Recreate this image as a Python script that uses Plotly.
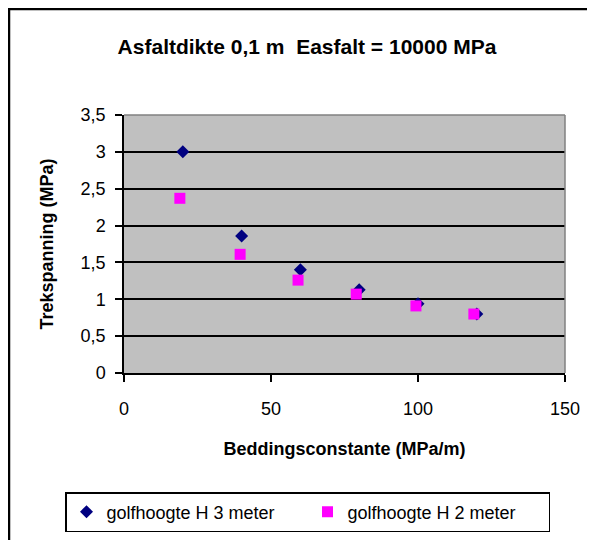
import plotly.graph_objects as go

# data
x_h3 = [20, 40, 60, 80, 100, 120]
y_h3 = [3.0, 1.86, 1.40, 1.13, 0.94, 0.80]
x_h2 = [19, 39.5, 59.2, 79, 99.3, 119]
y_h2 = [2.37, 1.61, 1.26, 1.07, 0.91, 0.80]
x_ticks = [0, 50, 100, 150]
y_ticks = [0, 0.5, 1, 1.5, 2, 2.5, 3, 3.5]

# page body has an 8px margin, so the figure is sized/placed to compensate
W, H = 587, 532
L, R, T, B = 116, 30, 107, 167
pw, ph = W - L - R, H - T - B

fnt = "Liberation Sans, Arial, sans-serif"

fig = go.Figure()
fig.add_trace(go.Scatter(x=x_h3, y=y_h3, mode="markers", name="golfhoogte H 3 meter",
                         marker=dict(symbol="diamond", size=10, color="#000080")))
fig.add_trace(go.Scatter(x=x_h2, y=y_h2, mode="markers", name="golfhoogte H 2 meter",
                         marker=dict(symbol="square", size=11, color="#FF00FF")))

fig.update_xaxes(range=[0, 150], tickvals=x_ticks, showgrid=False, zeroline=False,
                 showline=True, linecolor="black", linewidth=1.5, automargin=False,
                 ticks="outside", ticklen=7, tickcolor="black", tickwidth=1.5,
                 ticklabelstandoff=12,
                 tickfont=dict(family=fnt, size=18, color="black"),
                 title=dict(text="<b>Beddingsconstante (MPa/m)</b>", standoff=24,
                            font=dict(family=fnt, size=18, color="black")))
fig.update_yaxes(range=[0, 3.5], tickvals=y_ticks, showgrid=True, gridcolor="black", gridwidth=1.8,
                 zeroline=False, showline=True, linecolor="black", linewidth=1.5, automargin=False,
                 ticks="outside", ticklen=7, tickcolor="black", tickwidth=1.5,
                 ticklabelstandoff=6,
                 tickfont=dict(family=fnt, size=18, color="black"),
                 title=dict(text="<b>Trekspanning (MPa)</b>", standoff=22,
                            font=dict(family=fnt, size=18, color="black")))

# grey top/right plot border, outer chart frame
fig.add_shape(type="line", xref="paper", yref="paper", x0=0, x1=1, y0=1, y1=1,
              line=dict(color="#808080", width=1.5), layer="above")
fig.add_shape(type="line", xref="paper", yref="paper", x0=1, x1=1, y0=0, y1=1,
              line=dict(color="#808080", width=1.5), layer="above")
fig.add_shape(type="rect", xref="paper", yref="paper",
              x0=(1 - L) / pw, x1=(W + 30 - L) / pw,
              y0=(T + ph - (H + 30)) / ph, y1=(T + ph - 1) / ph,
              line=dict(color="black", width=2.5), layer="below")

fig.update_layout(
    width=W, height=H,
    margin=dict(l=L, r=R, t=T, b=B, autoexpand=False),
    paper_bgcolor="white", plot_bgcolor="#C0C0C0",
    separators=",.",
    font=dict(family=fnt, size=18, color="black"),
    title=dict(text="<b>Asfaltdikte 0,1 m  Easfalt = 10000 MPa</b>",
               x=299 / W, xanchor="center", y=1 - 39 / H, yanchor="middle",
               font=dict(family=fnt, size=21, color="black")),
    legend=dict(orientation="h", xref="paper", yref="paper",
                xanchor="left", x=(57 - L) / pw,
                yanchor="top", y=(T + ph - 484) / ph,
                bordercolor="black", borderwidth=1.5, bgcolor="white",
                font=dict(family=fnt, size=18, color="black"),
                itemwidth=30, tracegroupgap=0,
                entrywidth=196, entrywidthmode="pixels"),
    showlegend=True,
)

fig.write_html("out.html")
